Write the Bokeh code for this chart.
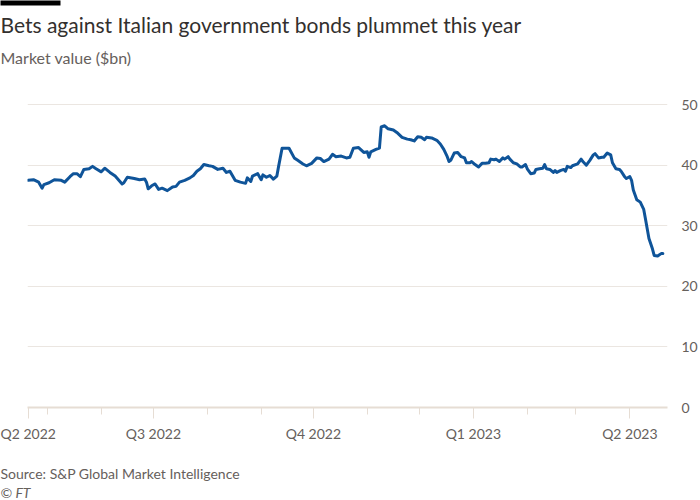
import pandas as pd
from bokeh.plotting import figure
from bokeh.models import (Range1d, FixedTicker, CustomJSTickFormatter, Title,
                          ColumnDataSource)
from bokeh.embed import file_html
from bokeh.resources import INLINE

title_text = "Bets against Italian government bonds plummet this year"
subtitle_text = "Market value ($bn)"
source_text = "Source: S&P Global Market Intelligence"
credit_text = "© FT"

dates = [
    "2022-04-20", "2022-04-23", "2022-04-26", "2022-04-28", "2022-04-29", "2022-05-02",
    "2022-05-05", "2022-05-09", "2022-05-11", "2022-05-14", "2022-05-16", "2022-05-18",
    "2022-05-20", "2022-05-22", "2022-05-25", "2022-05-27", "2022-05-29", "2022-06-01",
    "2022-06-03", "2022-06-06", "2022-06-09", "2022-06-13", "2022-06-14", "2022-06-16",
    "2022-06-20", "2022-06-23", "2022-06-26", "2022-06-27", "2022-06-28", "2022-06-30",
    "2022-07-02", "2022-07-04", "2022-07-06", "2022-07-09", "2022-07-12", "2022-07-14",
    "2022-07-16", "2022-07-19", "2022-07-22", "2022-07-24", "2022-07-26", "2022-07-28",
    "2022-07-30", "2022-08-02", "2022-08-04", "2022-08-07", "2022-08-10", "2022-08-12",
    "2022-08-14", "2022-08-17", "2022-08-20", "2022-08-23", "2022-08-24", "2022-08-26",
    "2022-08-27", "2022-08-30", "2022-09-01", "2022-09-02", "2022-09-04", "2022-09-06",
    "2022-09-08", "2022-09-10", "2022-09-11", "2022-09-13", "2022-09-15", "2022-09-17",
    "2022-09-20", "2022-09-22", "2022-09-25", "2022-09-27", "2022-09-30", "2022-10-03",
    "2022-10-05", "2022-10-07", "2022-10-10", "2022-10-12", "2022-10-14", "2022-10-17",
    "2022-10-20", "2022-10-22", "2022-10-24", "2022-10-27", "2022-10-30", "2022-11-01",
    "2022-11-02", "2022-11-03", "2022-11-06", "2022-11-08", "2022-11-09", "2022-11-11",
    "2022-11-13", "2022-11-16", "2022-11-18", "2022-11-21", "2022-11-24", "2022-11-26",
    "2022-11-28", "2022-11-30", "2022-12-02", "2022-12-04", "2022-12-05", "2022-12-08",
    "2022-12-11", "2022-12-13", "2022-12-15", "2022-12-17", "2022-12-18", "2022-12-19",
    "2022-12-21", "2022-12-23", "2022-12-25", "2022-12-27", "2022-12-28", "2022-12-30",
    "2022-12-31", "2023-01-02", "2023-01-03", "2023-01-04", "2023-01-06", "2023-01-08",
    "2023-01-10", "2023-01-11", "2023-01-13", "2023-01-14", "2023-01-16", "2023-01-18",
    "2023-01-19", "2023-01-21", "2023-01-22", "2023-01-24", "2023-01-26", "2023-01-28",
    "2023-01-29", "2023-01-31", "2023-02-01", "2023-02-03", "2023-02-05", "2023-02-06",
    "2023-02-08", "2023-02-10", "2023-02-11", "2023-02-12", "2023-02-14", "2023-02-16",
    "2023-02-17", "2023-02-18", "2023-02-20", "2023-02-22", "2023-02-23", "2023-02-24",
    "2023-02-26", "2023-02-27", "2023-03-02", "2023-03-04", "2023-03-05", "2023-03-07",
    "2023-03-09", "2023-03-11", "2023-03-12", "2023-03-14", "2023-03-16", "2023-03-17",
    "2023-03-19", "2023-03-21", "2023-03-22", "2023-03-24", "2023-03-26", "2023-03-27",
    "2023-03-29", "2023-03-30", "2023-04-01", "2023-04-02", "2023-04-03", "2023-04-05",
    "2023-04-07", "2023-04-09", "2023-04-10", "2023-04-11", "2023-04-12", "2023-04-14",
    "2023-04-15", "2023-04-17", "2023-04-19", "2023-04-20",
]

market_value = [
    37.5, 37.6, 37.2, 36.2, 36.8, 37.1,
    37.6, 37.5, 37.2, 38.1, 38.6, 38.6,
    38.1, 39.3, 39.4, 39.8, 39.4, 38.9,
    39.5, 38.8, 38.2, 36.9, 37.1, 38.0,
    37.8, 37.6, 37.7, 37.2, 36.1, 36.6,
    36.9, 36.0, 36.2, 35.8, 36.4, 36.5,
    37.2, 37.5, 37.9, 38.3, 39.0, 39.4,
    40.1, 39.9, 39.8, 39.3, 39.5, 38.8,
    39.0, 37.5, 37.2, 37.0, 37.9, 37.3,
    38.2, 38.6, 37.6, 38.4, 38.0, 38.3,
    37.7, 38.2, 39.8, 42.8, 42.8, 42.8,
    41.2, 40.8, 40.2, 39.9, 40.3, 41.2,
    41.1, 40.6, 41.0, 41.8, 41.4, 41.5,
    41.2, 41.3, 42.8, 42.9, 42.1, 42.2,
    41.3, 42.2, 42.6, 42.8, 46.3, 46.5,
    46.0, 45.8, 45.4, 44.6, 44.3, 44.2,
    44.0, 44.7, 44.6, 44.2, 44.6, 44.5,
    44.1, 43.5, 42.6, 41.4, 40.6, 40.8,
    42.0, 42.1, 41.4, 41.2, 40.4, 40.4,
    40.6, 40.1, 39.9, 39.7, 40.3, 40.3,
    40.4, 41.0, 40.9, 41.0, 40.6, 41.2,
    41.0, 41.4, 41.0, 40.4, 40.2, 39.7,
    39.7, 40.1, 39.4, 38.6, 38.7, 39.3,
    39.4, 39.5, 40.1, 39.4, 39.3, 38.8,
    39.1, 38.8, 39.1, 39.3, 39.0, 39.8,
    39.6, 39.9, 40.2, 41.0, 40.6, 40.0,
    40.8, 41.7, 41.9, 41.2, 41.3, 41.3,
    42.0, 41.7, 40.4, 39.4, 39.3, 39.0,
    38.1, 37.8, 38.1, 37.5, 35.9, 34.3,
    33.9, 32.7, 31.1, 29.5, 27.9, 26.2,
    25.1, 25.0, 25.4, 25.4,
]

y_ticks = [0, 10, 20, 30, 40, 50]
x_major_ticks = ["2022-04-20", "2022-07-01", "2022-10-01", "2023-01-01", "2023-04-01"]
x_major_labels = ["Q2 2022", "Q3 2022", "Q4 2022", "Q1 2023", "Q2 2023"]
x_minor_ticks = ["2022-05-01", "2022-06-01", "2022-08-01", "2022-09-01",
                 "2022-11-01", "2022-12-01", "2023-02-01", "2023-03-01"]


def to_ms(ds):
    return [pd.Timestamp(d).value / 1e6 for d in ds]


src = ColumnDataSource(dict(date=pd.to_datetime(dates), value=market_value))

FONT = "Lato"
GREY = "#66605c"
TEXT = "#33302e"

p = figure(width=700, height=500, output_backend="svg", toolbar_location=None,
           x_axis_type="datetime", y_axis_location="right",
           x_range=Range1d(pd.Timestamp("2022-04-19 14:00"), pd.Timestamp("2023-04-22 16:00")),
           y_range=Range1d(0, 51.5),
           min_border_left=27, min_border_right=27, min_border_top=95, min_border_bottom=89)
p.outline_line_color = None
p.background_fill_color = "white"
p.border_fill_color = "white"

p.line("date", "value", source=src, line_color="#0f5499", line_width=3,
       line_join="round", line_cap="round")

# x axis
xa = p.xaxis[0]
xa.ticker = FixedTicker(ticks=to_ms(x_major_ticks), minor_ticks=to_ms(x_minor_ticks))
xa.formatter = CustomJSTickFormatter(args=dict(labels=x_major_labels),
                                     code="return labels[index];")
xa.axis_line_color = "#e6ddd4"
xa.axis_line_width = 2
xa.major_tick_line_color = "#e6ddd4"
xa.minor_tick_line_color = "#e6ddd4"
xa.major_tick_line_width = 1
xa.minor_tick_line_width = 1
xa.major_tick_in = 0
xa.major_tick_out = 11
xa.minor_tick_in = 0
xa.minor_tick_out = 7
xa.major_label_standoff = 6
xa.major_label_text_font = FONT
xa.major_label_text_font_size = "14px"
xa.major_label_text_color = GREY

# y axis (right)
ya = p.yaxis[0]
ya.ticker = FixedTicker(ticks=y_ticks)
ya.axis_line_color = None
ya.major_tick_line_color = None
ya.minor_tick_line_color = None
ya.major_label_standoff = 8
ya.major_label_text_font = FONT
ya.major_label_text_font_size = "14px"
ya.major_label_text_color = GREY

p.xgrid.visible = False
p.ygrid.grid_line_color = "#ebe6e1"
p.ygrid.grid_line_width = 1

NBSP = "\u00a0"

# panels above (first added = nearest the plot)
p.add_layout(Title(text=NBSP, text_font=FONT, text_font_size="10px",
                   text_font_style="normal", align="left", offset=-27,
                   standoff=11.8), "above")
p.add_layout(Title(text=subtitle_text, text_font=FONT, text_font_size="16px",
                   text_font_style="normal", text_color=GREY, align="left",
                   offset=-27, standoff=5), "above")
p.add_layout(Title(text=title_text, text_font=FONT, text_font_size="21px",
                   text_font_style="normal", text_color=TEXT, align="left",
                   offset=-27, standoff=13), "above")
p.add_layout(Title(text="\u2003" * 20, text_font=FONT, text_font_size="4px",
                   text_font_style="normal", background_fill_color="black",
                   align="left", offset=-27, standoff=-4, padding=0), "above")

# panels below (first added = nearest the plot, after the axis)
p.add_layout(Title(text=NBSP, text_font=FONT, text_font_size="10px",
                   text_font_style="normal", align="left", offset=-27,
                   standoff=3.6), "below")
p.add_layout(Title(text=source_text, text_font=FONT, text_font_size="14px",
                   text_font_style="normal", text_color=GREY, align="left",
                   offset=-27, standoff=0), "below")
p.add_layout(Title(text=credit_text, text_font=FONT, text_font_size="14px",
                   text_font_style="italic", text_color=GREY, align="left",
                   offset=-27, standoff=0), "below")

open("out.html", "w").write(file_html(p, INLINE))
